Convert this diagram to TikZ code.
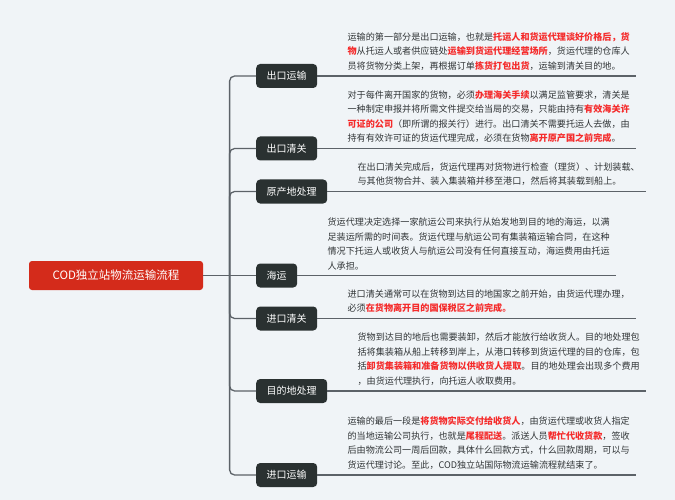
\documentclass[tikz,border=0pt]{standalone}
\usepackage{fontspec}
\setmainfont{Noto Sans CJK SC}
\usepackage{xcolor}
\usetikzlibrary{calc}
\usetikzlibrary{positioning}

\definecolor{bgc}{HTML}{F0F4F7}
\definecolor{rootred}{HTML}{D42B1B}
\definecolor{boxdark}{HTML}{2A3131}
\definecolor{linegray}{HTML}{5C6268}
\definecolor{txtgray}{HTML}{303436}
\definecolor{hlred}{HTML}{F52B2B}

\begin{document}
\begin{tikzpicture}[x=1pt,y=-1pt]
        \tikzstyle{topic}=[rounded corners=3pt, fill=rootred, text=white, minimum width=174pt, minimum height=29pt, font=\fontsize{11.5pt}{13pt}\selectfont]
        \tikzstyle{branch}=[rounded corners=4pt, fill=boxdark, text=white, inner xsep=10.5pt, minimum height=24pt, anchor=west, font=\fontsize{10pt}{12pt}\selectfont]
        \tikzstyle{note}=[text width=288pt, align=left, inner xsep=0pt, inner ysep=5.5pt, text=txtgray, font=\fontsize{9.1pt}{14.5pt}\selectfont]
        \tikzstyle{link}=[draw=linegray, line width=1.3pt, rounded corners=5pt]

        \newcommand{\hlt}[1]{\textcolor{hlred}{\bfseries #1}}

        \fill[bgc] (0,0) rectangle (675,500);
        \useasboundingbox (0,0) rectangle (675,500);

        \node (root) at (116,275.5) [topic]{COD独立站物流运输流程};

        \node (b1) at (256,76) [branch]{出口运输};
        \node (b2) at (256,148.5) [branch]{出口清关};
        \node (b3) at (256,191.5) [branch]{原产地处理};
        \node (b4) at (256,275.5) [branch]{海运};
        \node (b5) at (256,318.5) [branch]{进口清关};
        \node (b6) at (256,391) [branch]{目的地处理};
        \node (b7) at (256,475) [branch]{进口运输};

        \coordinate (fork) at ($(root.east)!0.5!(b4.west)$);
        \draw[link] (root.east)--(b4.west);
        \draw[link] (fork)|-(b1.west);
        \draw[link] (fork)|-(b2.west);
        \draw[link] (fork)|-(b3.west);
        \draw[link] (fork)|-(b5.west);
        \draw[link] (fork)|-(b6.west);
        \draw[link] (fork)|-(b7.west);

        \node (t1) [note, above right=0pt and 30pt of b1.east]{运输的第一部分是出口运输，也就是\hlt{托运人和货运代理谈好价格后，货}\\
            \hlt{物}从托运人或者供应链处\hlt{运输到货运代理经营场所}，货运代理的仓库人\\
            员将货物分类上架，再根据订单\hlt{拣货打包出货}，运输到清关目的地。};
        \node (t2) [note, above right=0pt and 30pt of b2.east]{对于每件离开国家的货物，必须\hlt{办理海关手续}以满足监管要求，清关是\\
            一种制定申报并将所需文件提交给当局的交易，只能由持有\hlt{有效海关许}\\
            \hlt{可证的公司}（即所谓的报关行）进行。出口清关不需要托运人去做，由\\
            持有有效许可证的货运代理完成，必须在货物\hlt{离开原产国之前完成}。};
        \node (t3) [note, above right=0pt and 30pt of b3.east]{在出口清关完成后，货运代理再对货物进行检查（理货）、计划装载、\\
            与其他货物合并、装入集装箱并移至港口，然后将其装载到船上。};
        \node (t4) [note, above right=0pt and 30pt of b4.east]{货运代理决定选择一家航运公司来执行从始发地到目的地的海运，以满\\
            足装运所需的时间表。货运代理与航运公司有集装箱运输合同，在这种\\
            情况下托运人或收货人与航运公司没有任何直接互动，海运费用由托运\\
            人承担。};
        \node (t5) [note, above right=0pt and 30pt of b5.east]{进口清关通常可以在货物到达目的地国家之前开始，由货运代理办理，\\
            必须\hlt{在货物离开目的国保税区之前完成。}};
        \node (t6) [note, above right=0pt and 30pt of b6.east]{货物到达目的地后也需要装卸，然后才能放行给收货人。目的地处理包\\
            括将集装箱从船上转移到岸上，从港口转移到货运代理的目的仓库，包\\
            括\hlt{卸货集装箱和准备货物以供收货人提取}。目的地处理会出现多个费用\\
            ，由货运代理执行，向托运人收取费用。};
        \node (t7) [note, above right=0pt and 30pt of b7.east]{运输的最后一段是\hlt{将货物实际交付给收货人}，由货运代理或收货人指定\\
            的当地运输公司执行，也就是\hlt{尾程配送}。派送人员\hlt{帮忙代收货款}，签收\\
            后由物流公司一周后回款，具体什么回款方式，什么回款周期，可以与\\
            货运代理讨论。至此，COD独立站国际物流运输流程就结束了。};

        \draw[link] (b1.east)--(t1.south east);
        \draw[link] (b2.east)--(t2.south east);
        \draw[link] (b3.east)--(t3.south east);
        \draw[link] (b4.east)--(t4.south east);
        \draw[link] (b5.east)--(t5.south east);
        \draw[link] (b6.east)--(t6.south east);
        \draw[link] (b7.east)--(t7.south east);

    \end{tikzpicture}
\end{document}
